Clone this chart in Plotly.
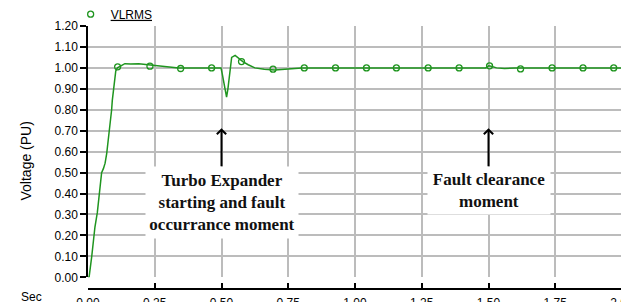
import plotly.graph_objects as go

# VLRMS curve (time in s, voltage in PU)
t_line = [0.000, 0.004, 0.014, 0.026, 0.035, 0.045, 0.051, 0.058, 0.064, 0.070,
          0.076, 0.086, 0.0885, 0.091, 0.098, 0.104, 0.110, 0.118, 0.128, 0.138,
          0.160, 0.190, 0.225, 0.260, 0.300, 0.340, 0.400, 0.450, 0.498, 0.503,
          0.508, 0.513, 0.519, 0.524, 0.530, 0.538, 0.551, 0.565, 0.580, 0.600,
          0.625, 0.660, 0.700, 0.750, 0.800, 0.900, 1.000, 1.100, 1.200, 1.300,
          1.400, 1.490, 1.500, 1.510, 1.530, 1.560, 1.600, 1.700, 1.800, 1.900, 2.000]
v_line = [0.000, 0.000, 0.100, 0.240, 0.310, 0.420, 0.500, 0.520, 0.545, 0.590,
          0.655, 0.750, 0.800, 0.845, 0.920, 0.985, 1.000, 1.005, 1.012, 1.020,
          1.018, 1.020, 1.015, 1.010, 1.005, 1.000, 1.000, 1.000, 1.000, 0.970,
          0.930, 0.900, 0.860, 0.900, 0.980, 1.050, 1.060, 1.045, 1.030, 1.015,
          1.000, 0.993, 0.990, 0.995, 1.000, 1.000, 1.000, 1.000, 1.000, 1.000,
          1.000, 1.000, 1.010, 1.008, 1.000, 0.997, 1.000, 1.000, 1.000, 1.000, 1.000]

# marker samples
t_mark = [0.111, 0.232, 0.347, 0.463, 0.575, 0.693, 0.810, 0.927, 1.043, 1.155,
          1.274, 1.390, 1.504, 1.620, 1.738, 1.854, 1.969]
v_mark = [1.005, 1.008, 0.997, 1.000, 1.030, 0.994, 1.000, 1.000, 1.000, 1.000,
          1.000, 1.000, 1.010, 0.995, 1.000, 1.000, 1.000]

x_ticks = [0.00, 0.25, 0.50, 0.75, 1.00, 1.25, 1.50, 1.75, 2.00]
y_ticks = [0.00, 0.10, 0.20, 0.30, 0.40, 0.50, 0.60, 0.70, 0.80, 0.90, 1.00, 1.10, 1.20]

GREEN = "#1f951f"
GRID = "#bcbcbc"
SANS = "Arial, Liberation Sans, sans-serif"
SERIF = "Times New Roman, Liberation Serif, serif"

fig = go.Figure()
fig.add_trace(go.Scatter(x=t_line, y=v_line, mode="lines",
                         line=dict(color=GREEN, width=1.5), showlegend=False,
                         hoverinfo="skip"))
fig.add_trace(go.Scatter(x=t_mark, y=v_mark, mode="markers", name="VLRMS",
                         marker=dict(symbol="circle-open", size=6,
                                     color=GREEN, line=dict(width=1.3, color=GREEN)),
                         showlegend=True))

ann_font = dict(family=SERIF, size=17, color="#111111", weight="bold")
fig.add_annotation(x=0.5, y=0.712, xref="x", yref="y",
                   text="Turbo Expander<br>starting and fault<br>occurrance moment",
                   showarrow=True, ax=0, ay=74, arrowhead=4, arrowsize=0.9,
                   arrowwidth=2, arrowcolor="#000000", bgcolor="white",
                   width=150, height=69, font=ann_font, align="center")
fig.add_annotation(x=1.5, y=0.712, xref="x", yref="y",
                   text="Fault clearance<br>moment",
                   showarrow=True, ax=0, ay=62, arrowhead=4, arrowsize=0.9,
                   arrowwidth=2, arrowcolor="#000000", bgcolor="white",
                   width=120, height=45, font=ann_font, align="center")
fig.add_annotation(x=0, y=0, xref="paper", yref="paper", xshift=-57, yshift=-8,
                   text="Sec", showarrow=False, xanchor="center", yanchor="middle",
                   font=dict(family=SANS, size=12, color="#000000"))
fig.add_annotation(x=0, y=0.5, xref="paper", yref="paper", xshift=-63, yshift=-4,
                   text="Voltage (PU)", showarrow=False, textangle=-90,
                   xanchor="center", yanchor="middle",
                   font=dict(family=SANS, size=14, color="#000000"))

# the page body adds an 8px offset; the figure is sized to fill the rest
fig.update_layout(
    width=621, height=294,
    margin=dict(l=80, r=6.5, t=18, b=13, autoexpand=False),
    paper_bgcolor="white", plot_bgcolor="white",
    font=dict(family=SANS, size=12, color="#000000"),
    legend=dict(x=-0.0325, y=1.045, xanchor="left", yanchor="middle",
                bgcolor="rgba(0,0,0,0)", borderwidth=0, itemwidth=30,
                font=dict(family=SANS, size=12, color="#000000", lineposition="under")),
    xaxis=dict(range=[0, 2.0], tickvals=x_ticks, tickformat=".2f",
               anchor="free", position=0, showline=True, linecolor="#000000",
               linewidth=1.5, ticks="inside", ticklen=5, tickcolor="#000000",
               tickwidth=1.5, showgrid=True, gridcolor=GRID, gridwidth=1.5,
               zeroline=False, ticklabeloverflow="allow", automargin=False,
               ticklabelstandoff=3,
               tickfont=dict(family=SANS, size=12, color="#000000")),
    yaxis=dict(range=[0, 1.2], tickvals=y_ticks, tickformat=".2f",
               domain=[0.0445, 1], showline=True, linecolor="#000000",
               linewidth=1.5, ticks="outside", ticklen=6, tickcolor="#000000",
               tickwidth=1.5, showgrid=True, gridcolor=GRID, gridwidth=1.5,
               zeroline=False, automargin=False,
               tickfont=dict(family=SANS, size=12, color="#000000")),
)

fig.write_html("out.html")
